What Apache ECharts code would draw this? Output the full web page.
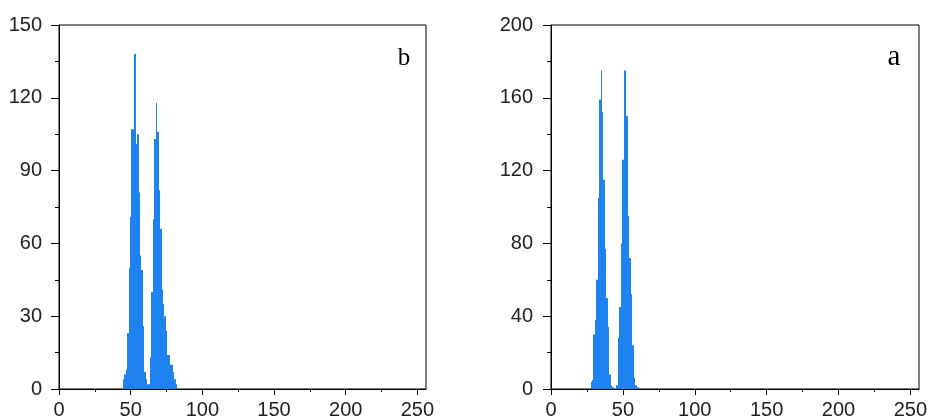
<!DOCTYPE html>
<html>
<head>
<meta charset="utf-8">
<script src="https://cdn.jsdelivr.net/npm/echarts@6/dist/echarts.min.js"></script>
<style>
html, body { margin: 0; padding: 0; background: #fff; }
#chart { width: 930px; height: 416px; }
</style>
</head>
<body>
<div id="chart"></div>
<script>
// Gray-level histogram of image b (left panel)
const levelsB = [45, 46, 47, 48, 49, 50, 51, 52, 53, 54, 55, 56, 57, 58, 59, 60, 61, 62, 63,
                 64, 65, 66, 67, 68, 69, 70, 71, 72, 73, 74, 75, 76, 77, 78, 79, 80, 81, 82];
const countsB = [4, 6, 8, 23, 50, 71, 107, 107, 138, 101, 105, 81, 55, 49, 26, 7, 4, 2, 2,
                 13, 40, 70, 103, 118, 106, 82, 66, 41, 35, 30, 24, 14, 14, 10, 10, 7, 4, 2];

// Gray-level histogram of image a (right panel)
const levelsA = [28, 29, 30, 31, 32, 33, 34, 35, 36, 37, 38, 39, 40, 41, 42, 43,
                 46, 47, 48, 49, 50, 51, 52, 53, 54, 55, 56, 57, 58, 59, 60, 61];
const countsA = [4, 5, 30, 38, 60, 105, 159, 175, 152, 115, 77, 50, 34, 8, 2, 1,
                 2, 28, 45, 80, 126, 175, 175, 150, 95, 72, 52, 24, 6, 2, 1, 1];

// Axis ticks
const xTicks = [0, 50, 100, 150, 200, 250];
const xMinorTicks = [25, 75, 125, 175, 225];
const xMax = 256;
const yMaxB = 150, yStepB = 30;
const yMaxA = 200, yStepA = 40;

const BAR = '#1E82F0';
const INK = '#000';
const LABEL = '#222';
const FONT = '"Liberation Sans", Arial, sans-serif';

function pairs(xs, ys) { return xs.map((x, i) => [x, ys[i]]); }

function mainX(gridIndex) {
  return {
    type: 'value', gridIndex, min: 0, max: xMax, position: 'bottom',
    axisLine: { show: true, lineStyle: { color: INK, width: 1 } },
    axisTick: { show: true, customValues: xTicks, length: 6, lineStyle: { color: INK } },
    axisLabel: { customValues: xTicks, color: LABEL, fontSize: 20, fontFamily: FONT, margin: 11 },
    splitLine: { show: false }
  };
}
function minorX(gridIndex) {
  return {
    type: 'value', gridIndex, min: 0, max: xMax, position: 'bottom',
    axisLine: { show: false },
    axisTick: { show: true, customValues: xMinorTicks, length: 3, lineStyle: { color: INK } },
    axisLabel: { show: false },
    splitLine: { show: false }
  };
}
function yAxisFor(gridIndex, max, step, margin) {
  return {
    type: 'value', gridIndex, min: 0, max, interval: step,
    axisLine: { show: true, lineStyle: { color: INK, width: 1 } },
    axisTick: { show: true, length: 8, lineStyle: { color: INK } },
    minorTick: { show: true, splitNumber: 2, length: 4, lineStyle: { color: INK } },
    axisLabel: { color: LABEL, fontSize: 20, fontFamily: FONT, margin },
    splitLine: { show: false },
    minorSplitLine: { show: false }
  };
}

// Each gray level is a one-unit-wide column [k - 0.5, k + 0.5]; the column
// edges are snapped to whole pixels so that neighbouring columns meet without seams.
function renderBin(params, api) {
  const k = api.value(0);
  const v = api.value(1);
  const topLeft = api.coord([k - 0.5, v]);
  const bottomRight = api.coord([k + 0.5, 0]);
  const x0 = Math.round(topLeft[0]);
  const x1 = Math.round(bottomRight[0]);
  return {
    type: 'rect',
    shape: { x: x0, y: topLeft[1], width: Math.max(1, x1 - x0), height: bottomRight[1] - topLeft[1] },
    style: { fill: BAR }
  };
}
function histSeries(xAxisIndex, yAxisIndex, xs, ys) {
  return {
    type: 'custom', xAxisIndex, yAxisIndex,
    data: pairs(xs, ys),
    encode: { x: 0, y: 1 },
    renderItem: renderBin,
    emphasis: { disabled: true },
    animation: false
  };
}

const chart = echarts.init(document.getElementById('chart'), null, { renderer: 'canvas' });
chart.setOption({
  backgroundColor: '#fff',
  animation: false,
  grid: [
    { left: 59, top: 25, width: 367, height: 364, outerBoundsMode: 'none', containLabel: false,
      show: true, borderColor: INK, borderWidth: 1, backgroundColor: 'transparent' },
    { left: 551, top: 25, width: 368, height: 364, outerBoundsMode: 'none', containLabel: false,
      show: true, borderColor: INK, borderWidth: 1, backgroundColor: 'transparent' }
  ],
  xAxis: [mainX(0), minorX(0), mainX(1), minorX(1)],
  yAxis: [yAxisFor(0, yMaxB, yStepB, 17), yAxisFor(1, yMaxA, yStepA, 18)],
  series: [
    histSeries(0, 0, levelsB, countsB),
    histSeries(2, 1, levelsA, countsA)
  ],
  graphic: [
    { type: 'text', style: { text: 'b', x: 404, y: 71, textAlign: 'center', textVerticalAlign: 'bottom',
      font: '25px "Liberation Serif", "Times New Roman", serif', fill: '#000' } },
    { type: 'text', style: { text: 'a', x: 894, y: 72, textAlign: 'center', textVerticalAlign: 'bottom',
      font: '29px "Liberation Serif", "Times New Roman", serif', fill: '#000' } }
  ]
});
</script>
</body>
</html>
